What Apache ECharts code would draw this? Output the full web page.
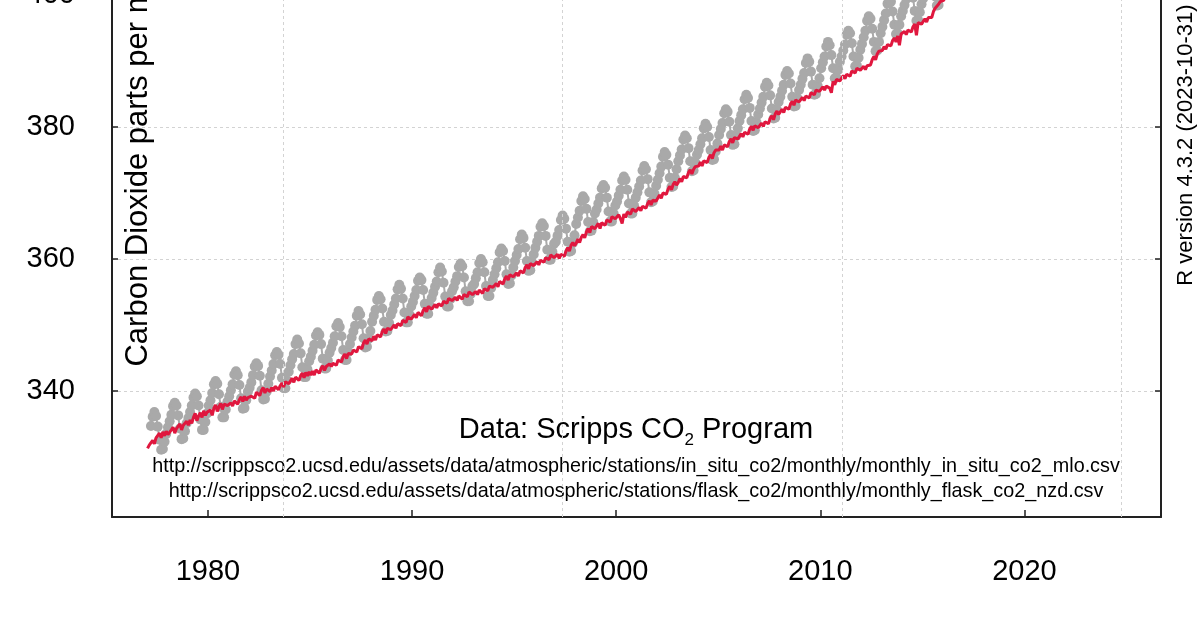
<!DOCTYPE html>
<html>
<head>
<meta charset="utf-8">
<title>Carbon Dioxide</title>
<script src="https://cdn.jsdelivr.net/npm/echarts@6/dist/echarts.min.js"></script>
<style>
  html, body { margin: 0; padding: 0; background: #fff; }
  #chart { width: 1200px; height: 630px; }
</style>
</head>
<body>
<div id="chart"></div>
<script>
// Mauna Loa in situ, monthly means (ppm), from March 1977
var mloStartYear = 1977
var mloStartMonth = 3
var mloMonthly = [
  334.7, 336.1, 336.8, 336.2, 334.6, 332.6, 331.1, 331.2, 332.3, 333.5,
  334.5, 335.4, 336.4, 337.7, 338.2, 337.8, 336.3, 334.3, 332.7, 332.8, 333.9, 335.1,
  335.9, 336.8, 337.8, 339.0, 339.6, 339.2, 337.8, 335.7, 334.1, 334.1, 335.3, 336.6,
  337.8, 338.6, 339.7, 341.0, 341.5, 341.1, 339.5, 337.6, 336.0, 336.0, 337.2, 338.4,
  339.2, 340.1, 341.0, 342.5, 343.0, 342.4, 340.9, 338.9, 337.3, 337.4, 338.6, 339.9,
  340.5, 341.3, 342.4, 343.7, 344.2, 343.8, 342.3, 340.1, 338.7, 338.8, 339.9, 341.1,
  342.2, 343.1, 344.1, 345.4, 345.9, 345.5, 344.1, 342.0, 340.4, 340.4, 341.6, 342.9,
  343.9, 344.8, 345.6, 347.1, 347.8, 347.2, 345.7, 343.6, 342.1, 342.1, 343.3, 344.5,
  345.2, 346.1, 347.0, 348.4, 348.9, 348.5, 347.1, 344.9, 343.4, 343.4, 344.6, 345.8,
  346.5, 347.3, 348.3, 349.8, 350.3, 349.7, 348.3, 346.2, 344.7, 344.7, 345.9, 347.1,
  348.1, 349.0, 349.9, 351.4, 352.1, 351.6, 350.1, 348.0, 346.6, 346.7, 347.9, 349.1,
  350.5, 351.4, 352.3, 353.8, 354.4, 353.9, 352.5, 350.5, 349.0, 349.1, 350.3, 351.5,
  352.2, 353.1, 354.0, 355.4, 356.1, 355.5, 354.0, 351.9, 350.4, 350.4, 351.6, 352.8,
  353.5, 354.4, 355.3, 356.7, 357.2, 356.8, 355.3, 353.2, 351.7, 351.7, 352.9, 354.1,
  354.9, 355.8, 356.6, 358.0, 358.7, 358.1, 356.4, 354.3, 352.8, 352.8, 353.9, 355.1,
  355.7, 356.6, 357.4, 358.8, 359.3, 358.9, 357.2, 355.1, 353.6, 353.6, 354.7, 355.9,
  356.2, 357.1, 358.0, 359.4, 360.0, 359.5, 358.0, 355.9, 354.4, 354.4, 355.6, 356.8,
  357.7, 358.6, 359.5, 361.0, 361.6, 361.2, 359.7, 357.7, 356.2, 356.3, 357.5, 358.7,
  359.7, 360.6, 361.5, 363.0, 363.7, 363.2, 361.7, 359.7, 358.2, 358.3, 359.5, 360.7,
  361.7, 362.6, 363.5, 364.9, 365.4, 365.0, 363.5, 361.4, 359.9, 359.9, 361.1, 362.3,
  362.6, 363.5, 364.4, 365.9, 366.6, 366.1, 364.6, 362.6, 361.1, 361.2, 362.4, 363.6,
  365.3, 366.3, 367.3, 368.8, 369.5, 369.1, 367.6, 365.6, 364.2, 364.3, 365.6, 366.9,
  367.5, 368.4, 369.3, 370.7, 371.2, 370.8, 369.3, 367.2, 365.7, 365.7, 366.9, 368.1,
  368.7, 369.6, 370.5, 371.9, 372.5, 372.0, 370.5, 368.4, 366.9, 366.9, 368.1, 369.3,
  370.1, 371.0, 371.9, 373.4, 374.1, 373.6, 372.1, 370.1, 368.6, 368.7, 369.9, 371.1,
  372.0, 373.0, 374.0, 375.5, 376.2, 375.8, 374.3, 372.3, 370.9, 371.0, 372.3, 373.6,
  374.8, 375.7, 376.6, 378.1, 378.7, 378.3, 376.8, 374.8, 373.3, 373.4, 374.6, 375.8,
  376.5, 377.4, 378.3, 379.8, 380.5, 380.0, 378.5, 376.5, 375.0, 375.1, 376.3, 377.5,
  378.8, 379.7, 380.6, 382.1, 382.7, 382.3, 380.8, 378.8, 377.3, 377.4, 378.6, 379.8,
  380.9, 381.8, 382.7, 384.2, 384.9, 384.4, 382.9, 380.9, 379.4, 379.5, 380.7, 381.9,
  382.8, 383.7, 384.6, 386.1, 386.7, 386.3, 384.8, 382.8, 381.3, 381.4, 382.6, 383.8,
  384.6, 385.5, 386.4, 387.9, 388.5, 388.1, 386.6, 384.6, 383.1, 383.2, 384.4, 385.6,
  386.4, 387.3, 388.2, 389.7, 390.4, 389.9, 388.4, 386.4, 384.9, 385.0, 386.2, 387.4,
  388.9, 389.8, 390.7, 392.2, 392.9, 392.4, 390.9, 388.9, 387.4, 387.5, 388.7, 389.9,
  390.7, 391.6, 392.5, 394.0, 394.6, 394.2, 392.7, 390.7, 389.2, 389.3, 390.5, 391.7,
  392.6, 393.6, 394.6, 396.1, 396.8, 396.4, 394.9, 392.9, 391.5, 391.6, 392.9, 394.2,
  395.2, 396.2, 397.2, 398.7, 399.4, 399.0, 397.5, 395.5, 394.1, 394.2, 395.5, 396.8,
  397.6, 398.5, 399.4, 400.9, 401.6, 401.1, 399.6, 397.6, 396.1, 396.2, 397.4, 398.6,
  399.5, 400.5, 401.5, 403.0, 403.7, 403.3, 401.8, 399.8, 398.4, 398.5, 399.8, 401.1,
  402.9, 403.9, 404.9, 406.4, 407.1, 406.7, 405.2, 403.2, 401.8, 401.9, 403.2, 404.5
]

// Baring Head (NZD) flask, monthly means (ppm), from January 1977
var nzdStartYear = 1977
var nzdStartMonth = 1
var nzdMonthly = [
  331.3, 331.8, 331.7, 332.5, 332.0, 332.9, 333.0, 333.6, 332.9, 333.8, 333.2, 333.9,
  333.4, 333.1, 334.1, 334.5, 333.6, 334.3, 334.2, 335.0, 334.1, 334.8, 335.0, 335.4,
  334.8, 335.6, 335.1, 336.0, 336.6, 335.5, 336.2, 336.7, 336.0, 337.0, 336.3, 336.8,
  336.6, 337.1, 336.3, 337.4, 337.9, 336.9, 337.6, 338.1, 337.2, 338.0, 338.3, 337.8,
  337.6, 338.2, 337.7, 338.5, 338.8, 338.0, 338.7, 339.1, 338.4, 339.2, 338.6, 339.0,
  338.7, 339.2, 339.5, 338.9, 339.8, 340.1, 339.3, 340.1, 340.5, 339.7, 340.3, 340.4,
  339.9, 340.5, 340.0, 340.7, 341.0, 340.2, 340.8, 341.2, 340.6, 341.4, 341.7, 341.1,
  341.3, 341.9, 341.3, 342.1, 342.4, 341.6, 342.3, 342.7, 342.0, 342.8, 342.3, 342.9,
  342.4, 343.0, 342.4, 343.2, 343.5, 342.7, 343.4, 343.8, 343.1, 343.7, 344.0, 344.1,
  343.7, 344.2, 344.5, 343.9, 344.7, 345.0, 344.4, 345.2, 345.6, 344.9, 345.7, 345.8,
  345.6, 346.2, 346.4, 345.9, 346.7, 347.0, 346.4, 347.3, 347.7, 347.1, 347.9, 348.0,
  347.6, 348.3, 347.7, 348.5, 348.8, 348.2, 349.0, 349.4, 348.7, 349.5, 349.8, 349.3,
  349.5, 350.0, 349.5, 350.2, 350.5, 349.9, 350.7, 351.0, 350.4, 351.2, 351.4, 350.9,
  351.1, 351.6, 351.1, 351.9, 352.1, 351.4, 352.2, 352.6, 352.0, 352.8, 353.0, 352.4,
  352.6, 353.1, 352.6, 353.2, 353.5, 352.9, 353.6, 353.9, 353.3, 354.0, 354.2, 353.7,
  353.7, 354.2, 353.7, 354.4, 354.6, 353.9, 354.6, 354.9, 354.3, 355.0, 355.1, 354.6,
  354.7, 355.1, 354.6, 355.3, 355.5, 354.8, 355.5, 355.8, 355.2, 355.9, 356.1, 355.7,
  355.8, 356.3, 355.8, 356.6, 356.9, 356.2, 357.0, 357.4, 356.8, 357.6, 357.9, 357.3,
  357.4, 357.9, 357.4, 358.2, 358.5, 357.9, 358.7, 359.1, 358.5, 359.3, 359.6, 359.0,
  359.1, 359.6, 359.1, 359.8, 360.1, 359.5, 360.2, 360.5, 359.9, 360.6, 360.8, 360.2,
  360.2, 360.7, 360.1, 360.7, 361.0, 360.4, 361.2, 361.7, 361.2, 362.1, 362.5, 362.0,
  362.4, 363.0, 362.5, 363.3, 363.7, 363.2, 364.1, 364.6, 364.0, 364.9, 365.2, 364.6,
  364.8, 365.4, 364.6, 365.5, 365.8, 365.1, 365.9, 366.2, 365.6, 366.4, 366.6, 366.1,
  366.1, 366.7, 366.1, 365.4, 366.8, 366.3, 367.1, 367.4, 366.8, 367.6, 367.8, 367.2,
  367.3, 367.8, 367.3, 368.0, 368.3, 367.7, 368.4, 368.8, 368.2, 368.9, 369.2, 368.8,
  369.1, 369.7, 369.2, 370.0, 370.3, 369.8, 370.6, 371.0, 370.5, 371.3, 371.7, 371.2,
  371.6, 372.2, 371.7, 372.5, 372.8, 372.3, 373.1, 373.5, 372.9, 373.6, 374.0, 373.8,
  374.1, 374.7, 374.1, 374.9, 375.2, 374.6, 375.4, 375.8, 375.2, 376.1, 376.5, 376.2,
  376.5, 377.1, 376.5, 377.3, 377.6, 377.0, 377.8, 378.2, 377.6, 378.4, 378.7, 378.2,
  378.5, 379.0, 378.5, 379.2, 379.5, 378.9, 379.7, 380.1, 379.5, 380.2, 380.4, 379.9,
  380.1, 380.6, 380.1, 380.8, 381.1, 380.5, 381.3, 381.7, 381.1, 382.0, 382.4, 381.9,
  382.1, 382.7, 382.2, 383.0, 383.3, 382.7, 383.5, 383.9, 383.3, 384.1, 384.4, 383.8,
  384.0, 384.5, 384.0, 384.7, 385.0, 384.4, 385.2, 385.5, 384.9, 385.6, 385.9, 385.4,
  385.6, 386.1, 385.6, 386.2, 386.5, 385.9, 385.2, 386.9, 386.4, 387.2, 387.5, 387.0,
  387.3, 387.8, 387.3, 388.0, 388.3, 387.7, 388.5, 388.8, 388.2, 388.9, 389.1, 388.6,
  388.8, 389.2, 388.7, 389.3, 389.6, 389.4, 390.2, 390.7, 390.2, 391.1, 391.5, 391.2,
  391.6, 392.2, 391.8, 392.5, 392.8, 392.3, 393.1, 393.5, 392.9, 393.8, 392.4, 394.1,
  394.0, 394.5, 394.0, 394.7, 395.0, 394.4, 395.2, 395.6, 393.9, 395.8, 396.1, 395.6,
  395.9, 396.4, 395.9, 396.6, 396.8, 396.6, 397.5, 398.0, 397.7, 398.6, 399.0, 398.9,
  399.2, 399.7, 399.4, 400.2, 400.5, 400.2, 401.0, 401.4, 401.0, 401.8, 402.1, 401.8
]

// R grid() lines fall on Date ticks: 5000, 10000, 15000, 20000 days after 1970-01-01
var gridDays = [5000, 10000, 15000, 20000]

var sourceTitle = 'Data: Scripps CO{sub|2} Program'
var sourceUrls = [
  'http://scrippsco2.ucsd.edu/assets/data/atmospheric/stations/in_situ_co2/monthly/monthly_in_situ_co2_mlo.csv',
  'http://scrippsco2.ucsd.edu/assets/data/atmospheric/stations/flask_co2/monthly/monthly_flask_co2_nzd.csv'
]
var yTitle = 'Carbon Dioxide parts per million'
var rVersion = 'R version 4.3.2 (2023-10-31)'

function toPairs(startYear, startMonth, values) {
  return values.map(function (v, i) {
    return [startYear + (startMonth - 1 + i + 0.5) / 12, v]
  })
}

var font = 'Liberation Sans'
var axisColor = '#222'
var gridColor = '#d3d3d3'

var myChart = echarts.init(document.getElementById('chart'))

var option = {
  animation: false,
  backgroundColor: '#fff',
  grid: {
    left: 112,
    right: 39,
    top: -226,
    bottom: 113,
    containLabel: false,
    outerBoundsMode: 'none'
  },
  xAxis: {
    type: 'value',
    min: 1975.3,
    max: 2026.69,
    splitNumber: 5,
    axisLine: { show: true, onZero: false, lineStyle: { color: axisColor, width: 2 } },
    axisTick: { show: true, inside: true, length: 7, lineStyle: { color: axisColor, width: 1.5 } },
    axisLabel: {
      show: true,
      showMinLabel: false,
      showMaxLabel: false,
      margin: 40,
      color: '#000',
      fontSize: 29,
      fontFamily: font,
      formatter: function (v) { return String(v) }
    },
    splitLine: { show: false }
  },
  yAxis: [
    {
      type: 'value',
      position: 'left',
      min: 320.9,
      max: 433.5,
      splitNumber: 5,
      axisLine: { show: true, onZero: false, lineStyle: { color: axisColor, width: 2 } },
      axisTick: { show: true, inside: true, length: 6, lineStyle: { color: axisColor, width: 1.5 } },
      axisLabel: {
        show: true,
        showMinLabel: false,
        showMaxLabel: false,
        margin: 37,
        color: '#000',
        fontSize: 29,
        fontFamily: font,
        formatter: function (v) { return String(v) }
      },
      splitLine: { show: true, lineStyle: { color: gridColor, width: 1, type: [3, 3] } }
    },
    {
      type: 'value',
      position: 'right',
      min: 320.9,
      max: 433.5,
      splitNumber: 5,
      axisLine: { show: true, onZero: false, lineStyle: { color: axisColor, width: 2 } },
      axisTick: { show: true, inside: true, length: 6, lineStyle: { color: axisColor, width: 1.5 } },
      axisLabel: { show: false },
      splitLine: { show: false }
    }
  ],
  series: [
    {
      // vertical dotted grid
      type: 'line',
      data: [],
      z: 1,
      silent: true,
      markLine: {
        silent: true,
        symbol: 'none',
        label: { show: false },
        lineStyle: { color: gridColor, width: 1, type: [3, 3] },
        data: gridDays.map(function (d) { return { xAxis: 1970 + d / 365.25 } })
      }
    },
    {
      name: 'MLO',
      type: 'line',
      data: toPairs(mloStartYear, mloStartMonth, mloMonthly),
      z: 2,
      symbol: 'circle',
      symbolSize: 10,
      showSymbol: true,
      itemStyle: { color: '#a9a9a9' },
      lineStyle: { color: '#a9a9a9', width: 2 }
    },
    {
      name: 'NZD',
      type: 'line',
      data: toPairs(nzdStartYear, nzdStartMonth, nzdMonthly),
      z: 3,
      symbol: 'none',
      lineStyle: { color: '#e0173e', width: 3 }
    }
  ],
  graphic: [
    {
      type: 'text',
      x: 138,
      y: 146,
      rotation: Math.PI / 2,
      style: {
        text: yTitle,
        fill: '#000',
        fontSize: 31,
        fontFamily: font,
        align: 'center',
        verticalAlign: 'middle',
        textAlign: 'center',
        textVerticalAlign: 'middle'
      }
    },
    {
      type: 'text',
      x: 1186,
      y: 145,
      rotation: Math.PI / 2,
      style: {
        text: rVersion,
        fill: '#000',
        fontSize: 22,
        fontFamily: font,
        align: 'center',
        verticalAlign: 'middle',
        textAlign: 'center',
        textVerticalAlign: 'middle'
      }
    },
    {
      type: 'text',
      x: 636,
      y: 430,
      style: {
        text: sourceTitle,
        fill: '#000',
        fontSize: 29,
        fontFamily: font,
        lineHeight: 40,
        align: 'center',
        verticalAlign: 'middle',
        textAlign: 'center',
        textVerticalAlign: 'middle',
        rich: {
          sub: { fontSize: 17, fontFamily: font, lineHeight: 17, padding: [20, 0, 0, 0], fill: '#000' }
        }
      }
    },
    {
      type: 'text',
      x: 636,
      y: 467,
      style: {
        text: sourceUrls[0],
        fill: '#000',
        fontSize: 19.8,
        fontFamily: font,
        align: 'center',
        verticalAlign: 'middle',
        textAlign: 'center',
        textVerticalAlign: 'middle'
      }
    },
    {
      type: 'text',
      x: 636,
      y: 492,
      style: {
        text: sourceUrls[1],
        fill: '#000',
        fontSize: 19.8,
        fontFamily: font,
        align: 'center',
        verticalAlign: 'middle',
        textAlign: 'center',
        textVerticalAlign: 'middle'
      }
    }
  ]
}

myChart.setOption(option)
</script>
</body>
</html>
